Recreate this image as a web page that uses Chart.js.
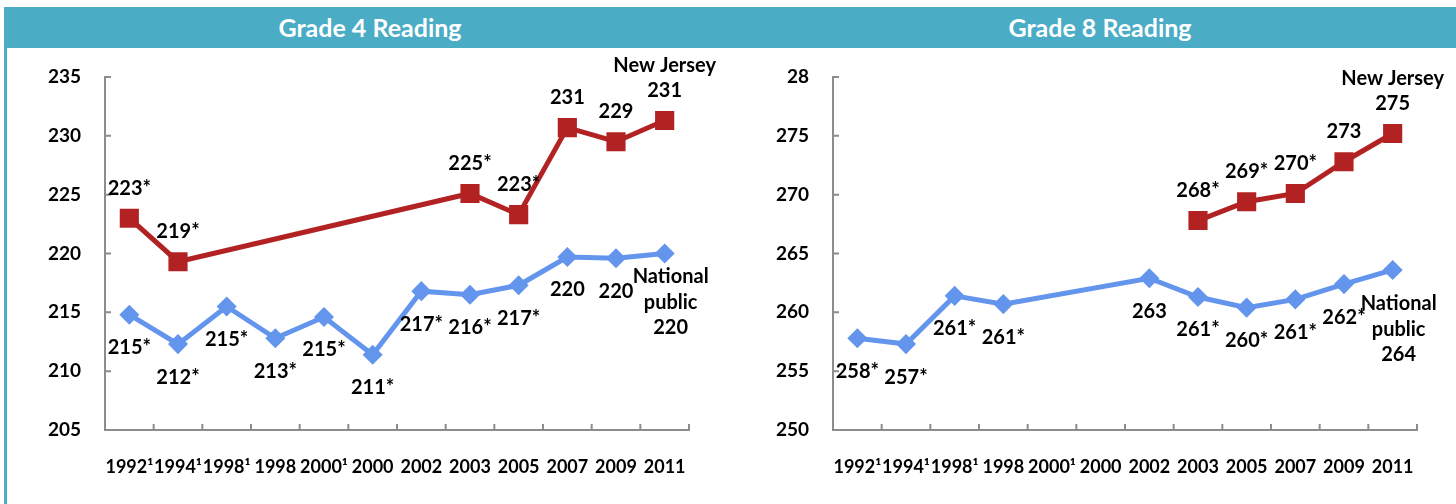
<!DOCTYPE html>
<html>
<head>
<meta charset="utf-8">
<script src="https://cdn.jsdelivr.net/npm/chart.js@4"></script>
<style>
  body { margin: 0; background: #fff; }
  #wrap { position: relative; width: 1456px; height: 504px; overflow: hidden; font-family: Lato, "Open Sans", sans-serif; }
  #bar { position: absolute; left: 4px; top: 7px; width: 1452px; height: 41px; background: #4bacc6; }
  #edge { position: absolute; left: 4px; top: 7px; width: 3px; height: 497px; background: #4bacc6; }
  .ttl { position: absolute; top: 7px; height: 41px; line-height: 41px; color: #fff; font-weight: bold; font-size: 25px; text-align: center; width: 400px; }
  .box { position: absolute; top: 48px; width: 728px; height: 456px; }
</style>
</head>
<body>
<div id="wrap">
  <div id="bar"></div>
  <div id="edge"></div>
  <div class="ttl" style="left:170px">Grade 4 Reading</div>
  <div class="ttl" style="left:900px">Grade 8 Reading</div>
  <div class="box" style="left:0"><canvas id="c4"></canvas></div>
  <div class="box" style="left:728px"><canvas id="c8"></canvas></div>
</div>
<script>
const years = ["1992\u00b9", "1994\u00b9", "1998\u00b9", "1998", "2000\u00b9", "2000", "2002", "2003", "2005", "2007", "2009", "2011"];

// Grade 4
const g4Nation = [214.8, 212.3, 215.5, 212.8, 214.6, 211.4, 216.8, 216.5, 217.3, 219.7, 219.6, 220.0];
const g4NJ = [223.0, 219.3, null, null, null, null, null, 225.1, 223.3, 230.7, 229.5, 231.3];
const g4NationText = ["215*", "212*", "215*", "213*", "215*", "211*", "217*", "216*", "217*", "220", "220", "220"];
const g4NJText = ["223*", "219*", "", "", "", "", "", "225*", "223*", "231", "229", "231"];
const g4Ticks = ["205", "210", "215", "220", "225", "230", "235"];

// Grade 8
const g8Nation = [257.8, 257.3, 261.4, 260.7, null, null, 262.9, 261.3, 260.4, 261.1, 262.4, 263.6];
const g8NJ = [null, null, null, null, null, null, null, 267.8, 269.4, 270.1, 272.8, 275.2];
const g8NationText = ["258*", "257*", "261*", "261*", "", "", "263", "261*", "260*", "261*", "262*", "264"];
const g8NJText = ["", "", "", "", "", "", "", "268*", "269*", "270*", "273", "275"];
const g8Ticks = ["250", "255", "260", "265", "270", "275", "28"];

const RED = "#b22222";
const BLUE = "#6495ed";
const AXIS = "#8c8c8c";
const FONT = "Lato, 'Open Sans', sans-serif";

// value labels + inside tick marks
const decor = {
    id: "decor",
    afterDraw(chart) {
        const ctx = chart.ctx;
        const ys = chart.scales.y;
        const area = chart.chartArea;
        ctx.save();
        ctx.strokeStyle = AXIS;
        ctx.lineWidth = 2;
        ctx.beginPath();
        ys.ticks.forEach((t, i) => {
            const py = ys.getPixelForTick(i);
            ctx.moveTo(area.left, py);
            ctx.lineTo(area.left + 6, py);
        });
        const step = (area.right - area.left) / years.length;
        for (let i = 1; i <= years.length; i++) {
            const px = area.left + step * i;
            ctx.moveTo(px, area.bottom);
            ctx.lineTo(px, area.bottom - 6);
        }
        ctx.stroke();

        ctx.fillStyle = "#000";
        ctx.font = "bold 20px " + FONT;
        ctx.textAlign = "center";
        ctx.textBaseline = "middle";
        const cfg = chart.options.plugins.decor;
        chart.data.datasets.forEach((ds, di) => {
            const meta = chart.getDatasetMeta(di);
            const texts = cfg.texts[di];
            const last = ds.data.length - 1;
            meta.data.forEach((pt, i) => {
                if (ds.data[i] == null || !texts[i]) return;
                if (di === 0) {
                    // national public: labels below
                    if (i === last) {
                        const x = pt.x + 6;
                        ctx.fillText("National", x, pt.y + cfg.nameDy);
                        ctx.fillText("public", x, pt.y + cfg.nameDy + 26);
                        ctx.fillText(texts[i], x, pt.y + cfg.nameDy + 51);
                    } else {
                        ctx.fillText(texts[i], pt.x, pt.y + 33);
                    }
                } else {
                    if (i === last) {
                        ctx.fillText("New Jersey", pt.x, pt.y - 55);
                        ctx.fillText(texts[i], pt.x, pt.y - 30);
                    } else {
                        ctx.fillText(texts[i], pt.x, pt.y - 30);
                    }
                }
            });
        });
        ctx.restore();
    }
};

function makeChart(id, nation, nj, nationText, njText, tickText, min, max, nameDy) {
    return new Chart(document.getElementById(id), {
        type: "line",
        data: {
            labels: years,
            datasets: [
                {
                    label: "National public",
                    data: nation,
                    borderColor: BLUE,
                    backgroundColor: BLUE,
                    borderWidth: 5,
                    pointStyle: "rectRot",
                    pointRadius: 6.5,
                    pointHoverRadius: 6.5,
                    spanGaps: true,
                    tension: 0
                },
                {
                    label: "New Jersey",
                    data: nj,
                    borderColor: RED,
                    backgroundColor: RED,
                    borderWidth: 5,
                    pointStyle: "rect",
                    pointRadius: 10,
                    pointHoverRadius: 10,
                    spanGaps: true,
                    tension: 0
                }
            ]
        },
        options: {
            responsive: false,
            animation: false,
            events: [],
            layout: { padding: { top: 29, right: 39, left: 0, bottom: 0 } },
            plugins: {
                legend: { display: false },
                tooltip: { enabled: false },
                decor: { texts: [nationText, njText], nameDy: nameDy }
            },
            scales: {
                x: {
                    offset: true,
                    grid: { display: false, drawTicks: false },
                    border: { color: AXIS, width: 2 },
                    ticks: {
                        color: "#000",
                        font: { family: FONT, size: 18, weight: "bold" },
                        padding: 26,
                        maxRotation: 0,
                        autoSkip: false
                    },
                    afterFit: (s) => { s.height = 74; }
                },
                y: {
                    min: min,
                    max: max,
                    grid: { display: false, drawTicks: false },
                    border: { color: AXIS, width: 2 },
                    ticks: {
                        stepSize: 5,
                        color: "#000",
                        font: { family: FONT, size: 19, weight: "bold" },
                        padding: 24,
                        callback: (v, i) => tickText[i]
                    },
                    afterFit: (s) => { s.width = 105; s.paddingTop = 0; s.paddingBottom = 0; }
                }
            }
        },
        plugins: [decor]
    });
}

for (const id of ["c4", "c8"]) {
    const c = document.getElementById(id);
    c.width = 728; c.height = 456;
    c.style.width = "728px"; c.style.height = "456px";
}

makeChart("c4", g4Nation, g4NJ, g4NationText, g4NJText, g4Ticks, 205, 235, 23);
makeChart("c8", g8Nation, g8NJ, g8NationText, g8NJText, g8Ticks, 250, 280, 34);
</script>
</body>
</html>
